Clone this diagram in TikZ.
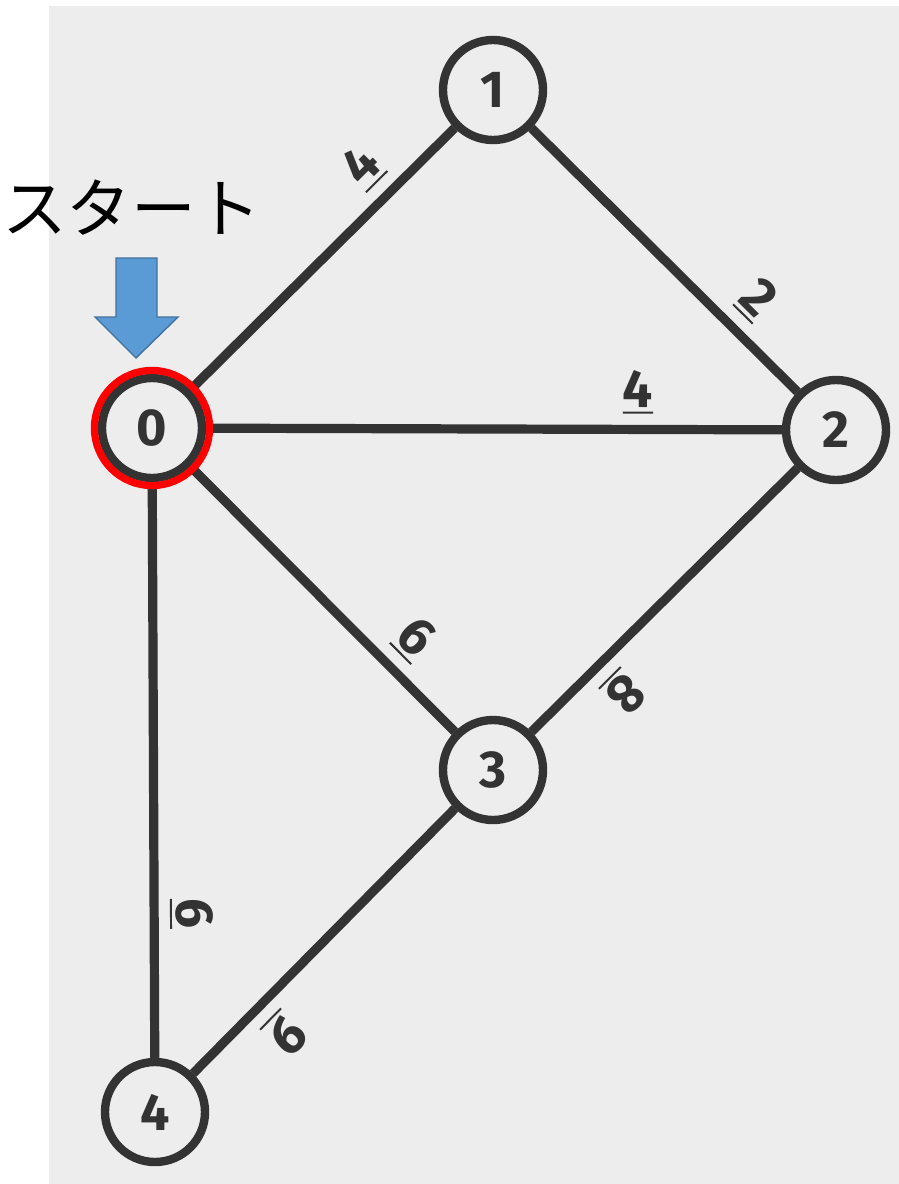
\documentclass[tikz,border=0pt]{standalone}
\usepackage{fontspec}
\setmainfont{Fira Sans}
\newfontfamily\jpfont{Noto Sans CJK JP}
\definecolor{GBack}{RGB}{237,237,237}
\definecolor{GInk}{RGB}{51,51,51}
\definecolor{GBlue}{RGB}{91,155,213}
\definecolor{GBlueLine}{RGB}{65,113,156}
\newcommand{\wt}[1]{\vtop{\hbox{#1}\kern2.6pt\hrule height 1.4pt}}

\begin{document}
\begin{tikzpicture}[x=0.025cm,y=-0.025cm,
  vertex/.style={circle,draw=GInk,line width=0.21cm,fill=GBack,minimum size=2.5cm,
                 inner sep=0pt,text=GInk,font=\fontsize{37}{40}\selectfont\bfseries},
  edge/.style={draw=GInk,line width=0.23cm},
  weight/.style={sloped,allow upside down,above=8pt,pos=0.75,inner sep=0pt,
                 text=GInk,font=\fontsize{38}{40}\selectfont\bfseries}
]
\useasboundingbox (0,0) rectangle (899,1184);
\fill[GBack] (49,6) rectangle (899,1184);
\node[vertex] (n0) at (152,428) {0};
\node[vertex] (n1) at (493,90) {1};
\node[vertex] (n2) at (836,430) {2};
\node[vertex] (n3) at (493,770) {3};
\node[vertex] (n4) at (155,1112) {4};
\draw[edge] (n0) -- node[weight] {\wt{4}} (n1);
\draw[edge] (n1) -- node[weight] {\wt{2}} (n2);
\draw[edge] (n0) -- node[weight] {\wt{4}} (n2);
\draw[edge] (n0) -- node[weight] {\wt{6}} (n3);
\draw[edge] (n2) -- node[weight] {\wt{8}} (n3);
\draw[edge] (n0) -- node[weight] {\wt{6}} (n4);
\draw[edge] (n3) -- node[weight] {\wt{9}} (n4);
% start marker
\draw[red,line width=0.18cm] (n0) circle (1.44cm);
\node[anchor=base west,inner sep=0pt,font=\jpfont\fontsize{46}{48}\selectfont] (start) at (2,232) {スタート};
\filldraw[fill=GBlue,draw=GBlueLine,line width=1pt]
  (116,258) -- (157,258) -- (157,317) -- (178,317) -- (136,358) -- (95,317) -- (116,317) -- cycle;
\end{tikzpicture}
\end{document}
